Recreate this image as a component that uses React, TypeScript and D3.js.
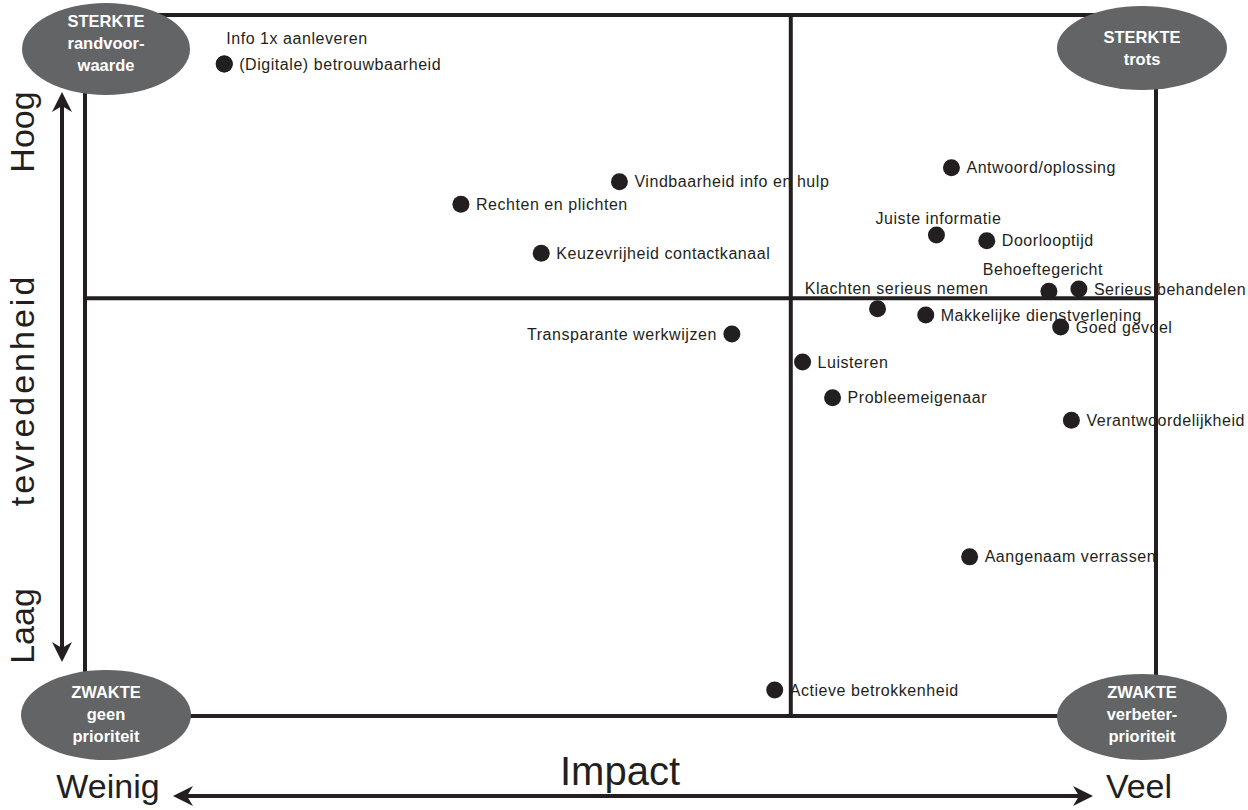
import React from "react";
import * as d3 from "d3";

// ---- data ----
const items: string[] = [
  "Info 1x aanleveren",
  "(Digitale) betrouwbaarheid",
  "Vindbaarheid info en hulp",
  "Rechten en plichten",
  "Keuzevrijheid contactkanaal",
  "Antwoord/oplossing",
  "Juiste informatie",
  "Doorlooptijd",
  "Behoeftegericht",
  "Serieus behandelen",
  "Klachten serieus nemen",
  "Makkelijke dienstverlening",
  "Goed gevoel",
  "Transparante werkwijzen",
  "Luisteren",
  "Probleemeigenaar",
  "Verantwoordelijkheid",
  "Aangenaam verrassen",
  "Actieve betrokkenheid",
];
// impact (0-100)
const impact: number[] = [
  13.0, 13.0, 49.9, 35.1, 42.6, 80.9, 79.5, 84.2, 90.0, 92.8, 74.0, 78.5, 91.1, 60.4, 67.0, 69.8, 92.1, 82.6, 64.4,
];
// tevredenheid (0-100)
const satisfaction: number[] = [
  93.0, 93.0, 76.2, 73.0, 66.0, 78.2, 68.6, 67.8, 60.6, 60.9, 58.1, 57.2, 55.5, 54.5, 50.5, 45.4, 42.2, 22.7, 3.7,
];
// label placement: r = right, l = left, t* = above
const placement: string[] = [
  "tInfo", "r", "r", "r", "r", "r", "t", "r", "tB", "r", "tK", "r", "r", "l", "r", "r", "r", "r", "r",
];
const impactSplit = 65.9;
const satisfactionSplit = 59.6;

const quadrants = [
  { lines: ["STERKTE", "randvoor-", "waarde"], corner: "tl" },
  { lines: ["STERKTE", "trots"], corner: "tr" },
  { lines: ["ZWAKTE", "geen", "prioriteit"], corner: "bl" },
  { lines: ["ZWAKTE", "verbeter-", "prioriteit"], corner: "br" },
];

const W = 1248;
const H = 810;
const L = 85, R = 1156, T = 15, B = 716;
const ink = "#231f20";
const grey = "#636466";
const font = "'Liberation Sans', Arial, Helvetica, sans-serif";

export default function App() {
  const x = d3.scaleLinear().domain([0, 100]).range([L, R]);
  const y = d3.scaleLinear().domain([0, 100]).range([B, T]);

  const ellipsePos: Record<string, { cx: number; cy: number; rx: number; ry: number; ty: number }> = {
    tl: { cx: 106, cy: 49, rx: 84, ry: 46, ty: 43 },
    tr: { cx: 1142, cy: 48, rx: 85, ry: 42, ty: 48.5 },
    bl: { cx: 106, cy: 715, rx: 85, ry: 45, ty: 714 },
    br: { cx: 1142, cy: 717, rx: 85, ry: 43, ty: 714 },
  };

  const labelProps = (i: number) => {
    const p = placement[i];
    const px = x(impact[i]);
    const py = y(satisfaction[i]);
    if (p === "r") return { x: px + 15, y: py, anchor: "start" };
    if (p === "l") return { x: px - 15, y: py, anchor: "end" };
    if (p === "tInfo") return { x: px + 2, y: py - 26, anchor: "start" };
    if (p === "tB") return { x: px - 6, y: py - 22, anchor: "middle" };
    if (p === "tK") return { x: px + 19, y: py - 20, anchor: "middle" };
    return { x: px + 2, y: py - 17, anchor: "middle" };
  };

  return (
    <svg
      width={W}
      height={H}
      viewBox={`0 0 ${W} ${H}`}
      style={{ position: "absolute", left: 0, top: 0, background: "#fff" }}
      fontFamily={font}
    >
      <defs>
        <marker id="ah" viewBox="0 0 10 10" refX="8" refY="5" markerWidth="5" markerHeight="5" orient="auto-start-reverse">
          <path d="M0,0 L10,5 L0,10 L3,5 Z" fill={ink} />
        </marker>
      </defs>

      {/* frame */}
      <rect x={L} y={T} width={R - L} height={B - T} fill="none" stroke={ink} strokeWidth={4} />
      <line x1={x(impactSplit)} x2={x(impactSplit)} y1={T} y2={B} stroke={ink} strokeWidth={4} />
      <line x1={L} x2={R} y1={y(satisfactionSplit)} y2={y(satisfactionSplit)} stroke={ink} strokeWidth={4} />

      {/* quadrant ellipses */}
      {quadrants.map((q) => {
        const e = ellipsePos[q.corner];
        const n = q.lines.length;
        return (
          <g key={q.corner}>
            <ellipse cx={e.cx} cy={e.cy} rx={e.rx} ry={e.ry} fill={grey} />
            {q.lines.map((t, k) => (
              <text
                key={k}
                x={e.cx}
                y={e.ty + (k - (n - 1) / 2) * 22}
                dy="0.35em"
                textAnchor="middle"
                fill="#fff"
                fontWeight="bold"
                fontSize={16.5}
              >
                {t}
              </text>
            ))}
          </g>
        );
      })}

      {/* points */}
      {items.map((name, i) => (
        <circle key={"c" + i} cx={x(impact[i])} cy={y(satisfaction[i])} r={8.5} fill={ink} />
      ))}
      {items.map((name, i) => {
        const lp = labelProps(i);
        return (
          <text
            key={"t" + i}
            x={lp.x}
            y={lp.y}
            dy="0.35em"
            textAnchor={lp.anchor as any}
            fontSize={16}
            letterSpacing={0.55}
            fill={ink}
          >
            {name}
          </text>
        );
      })}

      {/* vertical axis */}
      <line x1={62} x2={62} y1={96} y2={658} stroke={ink} strokeWidth={4} markerStart="url(#ah)" markerEnd="url(#ah)" />
      <text transform="translate(34,132) rotate(-90)" textAnchor="middle" fontSize={34} fill={ink}>Hoog</text>
      <text transform="translate(34,390) rotate(-90)" textAnchor="middle" fontSize={34} letterSpacing={3} fill={ink}>tevredenheid</text>
      <text transform="translate(34,626) rotate(-90)" textAnchor="middle" fontSize={34} fill={ink}>Laag</text>

      {/* horizontal axis */}
      <line x1={177} x2={1089} y1={796} y2={796} stroke={ink} strokeWidth={4} markerStart="url(#ah)" markerEnd="url(#ah)" />
      <text x={108} y={798} textAnchor="middle" fontSize={34} fill={ink}>Weinig</text>
      <text x={620} y={785} textAnchor="middle" fontSize={40} fill={ink}>Impact</text>
      <text x={1139} y={798} textAnchor="middle" fontSize={34} fill={ink}>Veel</text>
    </svg>
  );
}
